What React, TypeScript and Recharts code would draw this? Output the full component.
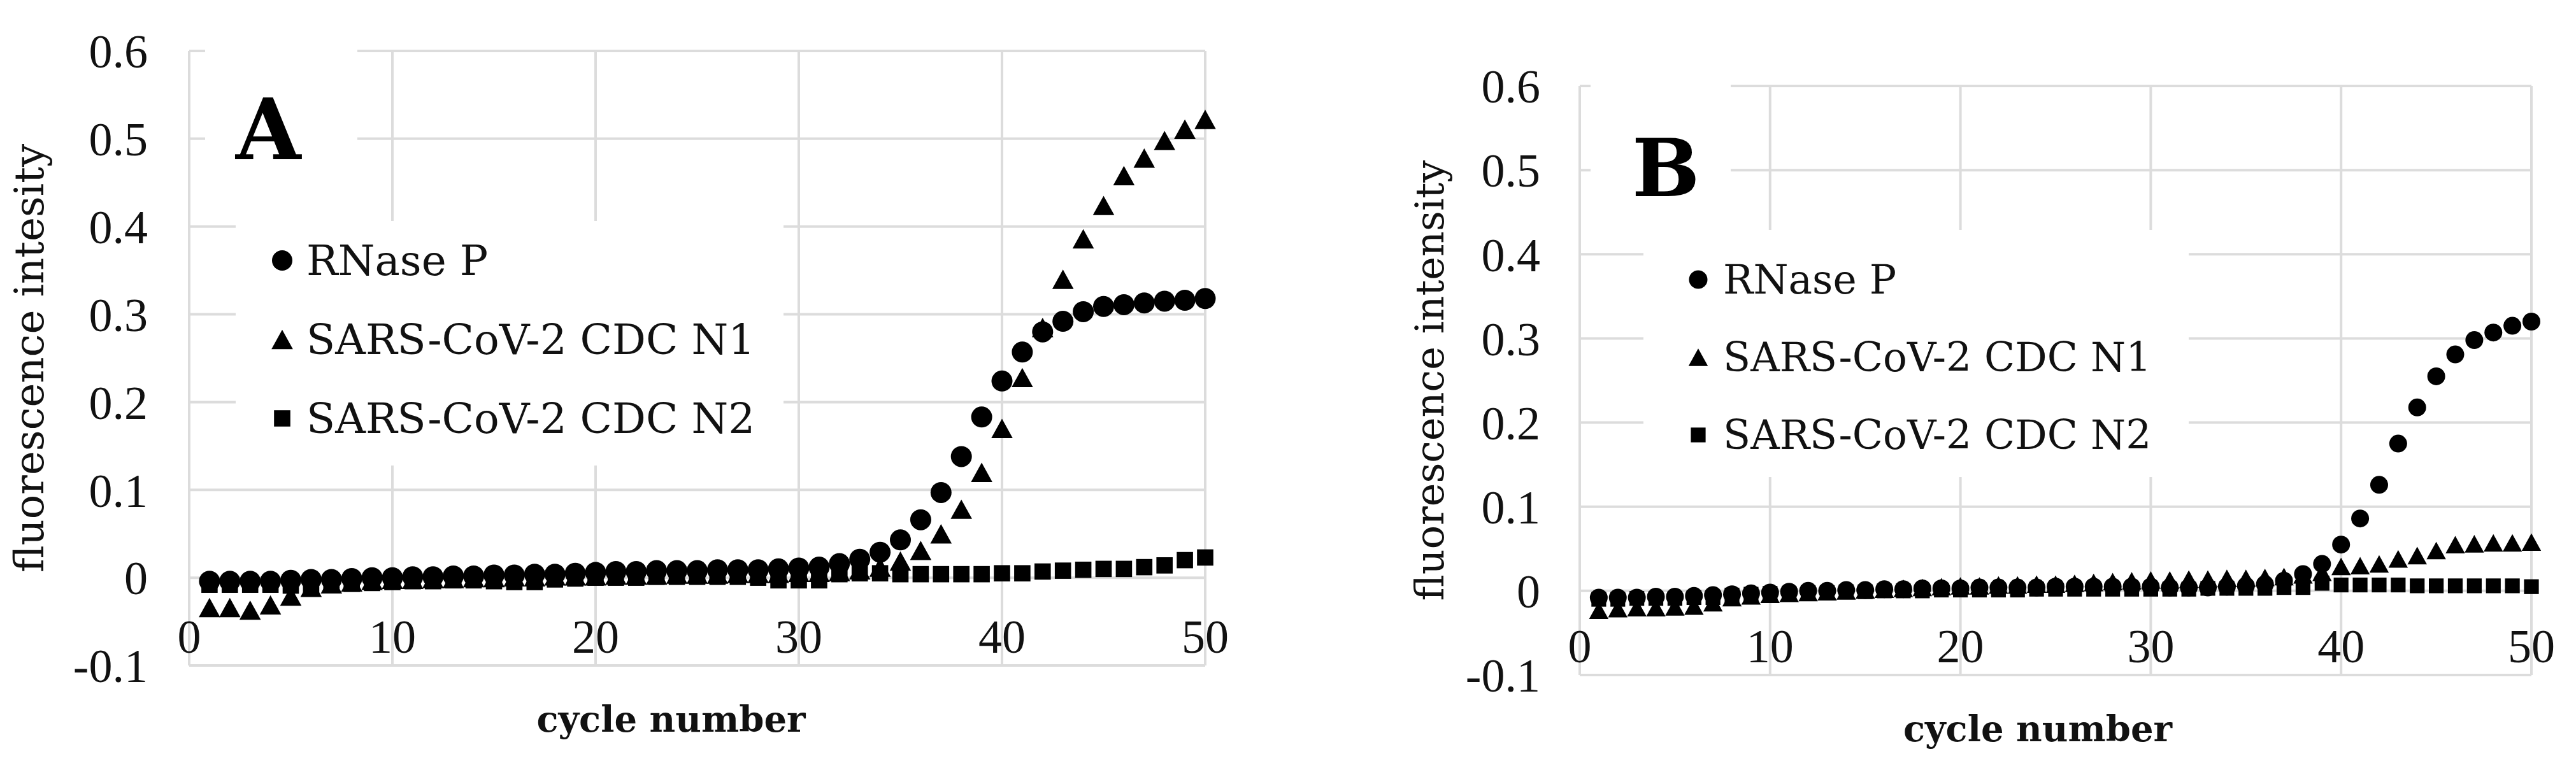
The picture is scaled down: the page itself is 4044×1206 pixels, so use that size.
import React from "react";
import { ScatterChart, Scatter, XAxis, YAxis, CartesianGrid, Legend } from "recharts";

// cycle numbers on the x axis
const cycles = [
  1, 2, 3, 4, 5, 6, 7, 8, 9, 10,
  11, 12, 13, 14, 15, 16, 17, 18, 19, 20,
  21, 22, 23, 24, 25, 26, 27, 28, 29, 30,
  31, 32, 33, 34, 35, 36, 37, 38, 39, 40,
  41, 42, 43, 44, 45, 46, 47, 48, 49, 50,
];

const xTicks = [0, 10, 20, 30, 40, 50];
const yTicks = [-0.1, 0, 0.1, 0.2, 0.3, 0.4, 0.5, 0.6];

const seriesNames = ["RNase P", "SARS-CoV-2 CDC N1", "SARS-CoV-2 CDC N2"];

// panel A
const aRNaseP = [
  -0.004, -0.004, -0.004, -0.004, -0.003, -0.002, -0.002, -0.001, 0.0, 0.0,
  0.001, 0.001, 0.002, 0.002, 0.003, 0.003, 0.004, 0.004, 0.005, 0.006,
  0.007, 0.007, 0.008, 0.008, 0.008, 0.009, 0.009, 0.009, 0.01, 0.011,
  0.012, 0.016, 0.021, 0.029, 0.043, 0.066, 0.097, 0.138, 0.183, 0.224,
  0.257, 0.28, 0.292, 0.303, 0.309, 0.311, 0.313, 0.315, 0.316, 0.318,
];
const aN1 = [
  -0.034, -0.034, -0.037, -0.031, -0.021, -0.011, -0.007, -0.005, -0.003, -0.002,
  -0.002, -0.001, -0.001, 0.0, 0.0, 0.001, 0.001, 0.002, 0.002, 0.002,
  0.003, 0.003, 0.003, 0.004, 0.004, 0.004, 0.005, 0.005, 0.005, 0.006,
  0.006, 0.007, 0.009, 0.012, 0.019, 0.031, 0.05, 0.078, 0.12, 0.17,
  0.228, 0.285, 0.34, 0.386, 0.424, 0.458, 0.478, 0.498, 0.511, 0.522,
];
const aN2 = [
  -0.008, -0.008, -0.008, -0.008, -0.009, -0.009, -0.008, -0.007, -0.006, -0.005,
  -0.004, -0.004, -0.003, -0.003, -0.004, -0.005, -0.005, -0.002, -0.001, 0.0,
  0.0, 0.0, 0.001, 0.001, 0.001, 0.001, 0.001, 0.0, -0.003, -0.003,
  -0.003, 0.004, 0.005, 0.005, 0.004, 0.004, 0.004, 0.004, 0.004, 0.005,
  0.005, 0.007, 0.008, 0.009, 0.01, 0.01, 0.012, 0.014, 0.02, 0.023,
];

// panel B
const bRNaseP = [
  -0.008, -0.008, -0.008, -0.007, -0.007, -0.006, -0.005, -0.004, -0.003, -0.002,
  -0.001, 0.0, 0.0, 0.001, 0.001, 0.002, 0.002, 0.003, 0.003, 0.003,
  0.004, 0.004, 0.004, 0.004, 0.005, 0.005, 0.005, 0.005, 0.005, 0.005,
  0.004, 0.004, 0.004, 0.005, 0.006, 0.008, 0.012, 0.02, 0.032, 0.055,
  0.086, 0.126, 0.175, 0.218, 0.255, 0.281, 0.298, 0.307, 0.315, 0.32,
];
const bN1 = [
  -0.023, -0.021, -0.02, -0.02, -0.019, -0.018, -0.014, -0.008, -0.006, -0.004,
  -0.003, -0.002, -0.001, 0.0, 0.001, 0.002, 0.003, 0.004, 0.005, 0.006,
  0.006, 0.007, 0.007, 0.008, 0.008, 0.009, 0.01, 0.011, 0.012, 0.013,
  0.013, 0.014, 0.014, 0.015, 0.015, 0.016, 0.017, 0.019, 0.022, 0.029,
  0.03, 0.032, 0.038, 0.042, 0.048, 0.055, 0.056, 0.057, 0.057, 0.058,
];
const bN2 = [
  -0.01, -0.01, -0.009, -0.009, -0.009, -0.008, -0.008, -0.005, -0.004, -0.003,
  -0.003, -0.002, -0.002, -0.001, -0.001, 0.0, 0.0, 0.0, 0.001, 0.001,
  0.001, 0.001, 0.001, 0.002, 0.002, 0.002, 0.002, 0.002, 0.002, 0.002,
  0.002, 0.002, 0.003, 0.003, 0.003, 0.003, 0.004, 0.004, 0.009, 0.007,
  0.007, 0.007, 0.007, 0.006, 0.006, 0.006, 0.006, 0.006, 0.006, 0.005,
];

const serif = "'DejaVu Serif', serif";
const numFont = "'Liberation Serif', serif";
const kinds = ["circle", "triangle", "square"];

const toPoints = (values: number[]) => cycles.map((c, i) => ({ x: c, y: values[i] }));

function Marker({ kind, cx, cy, size }: { kind: string; cx: number; cy: number; size: number }) {
  if (kind === "circle") return <circle cx={cx} cy={cy} r={size / 2} fill="#000" />;
  if (kind === "triangle") {
    const w = size * 1.05;
    const h = size * 0.95;
    return (
      <polygon
        points={`${cx},${cy - h / 2} ${cx - w / 2},${cy + h / 2} ${cx + w / 2},${cy + h / 2}`}
        fill="#000"
      />
    );
  }
  const s = size * 0.8;
  return <rect x={cx - s / 2} y={cy - s / 2} width={s} height={s} fill="#000" />;
}

const fmtY = (v: number) => (Math.abs(v) < 1e-9 ? "0" : v.toFixed(1));

function Panel(p: any) {
  const series = [p.rnase, p.n1, p.n2];

  const XTick = (t: any) => (
    <text x={t.x} y={t.y - 20} textAnchor="middle" fontFamily={numFont} fontSize={74} fill="#111">
      {t.payload.value}
    </text>
  );

  const legendContent = () => (
    <div style={{ paddingTop: p.legend.padTop }}>
      {seriesNames.map((name, i) => (
        <div key={name} style={{ height: p.legend.rowH, display: "flex", alignItems: "center" }}>
          <svg width={p.legend.markerX * 2} height={40} style={{ flex: "none" }}>
            <Marker kind={kinds[i]} cx={p.legend.markerX} cy={20} size={p.legend.markerSize} />
          </svg>
          <span
            style={{
              marginLeft: p.legend.textX - p.legend.markerX * 2,
              fontFamily: serif,
              fontSize: p.legend.fontSize,
              color: "#111",
              whiteSpace: "nowrap",
            }}
          >
            {name}
          </span>
        </div>
      ))}
    </div>
  );

  return (
    <div style={{ position: "absolute", left: p.left, top: 0, width: p.width, height: p.height }}>
      <ScatterChart
        width={p.width}
        height={p.height}
        margin={{ top: p.top, right: p.right, bottom: 0, left: 0 }}
      >
        <CartesianGrid stroke="#dcdcdc" strokeWidth={4} />
        <XAxis
          type="number"
          dataKey="x"
          domain={[0, 50]}
          ticks={xTicks}
          interval={0}
          height={p.xAxisHeight}
          axisLine={false}
          tickLine={false}
          tickSize={0}
          tickMargin={0}
          tick={XTick}
          label={{
            content: (lp: any) => {
              const vb = lp.viewBox;
              return (
                <text
                  x={vb.x + vb.width / 2 + p.xTitleShift}
                  y={vb.y + 104}
                  textAnchor="middle"
                  fontFamily={serif}
                  fontWeight="bold"
                  fontSize={56}
                  fill="#111"
                >
                  cycle number
                </text>
              );
            },
          }}
        />
        <YAxis
          type="number"
          dataKey="y"
          domain={[-0.1, 0.6]}
          ticks={yTicks}
          interval={0}
          width={p.yAxisWidth}
          axisLine={false}
          tickLine={false}
          tickSize={0}
          tickMargin={p.yTickMargin}
          tickFormatter={fmtY}
          tick={{ fontSize: 74, fill: "#111", fontFamily: numFont }}
          label={{
            content: (lp: any) => {
              const vb = lp.viewBox;
              const cx = vb.x + p.yTitleX;
              const cy = vb.y + vb.height / 2;
              return (
                <text
                  x={cx}
                  y={cy}
                  transform={`rotate(-90 ${cx} ${cy})`}
                  textAnchor="middle"
                  fontFamily={serif}
                  fontSize={p.yTitleSize}
                  fill="#111"
                >
                  {p.yTitle}
                </text>
              );
            },
          }}
        />
        {series.map((vals: number[], i: number) => (
          <Scatter
            key={seriesNames[i]}
            name={seriesNames[i]}
            data={toPoints(vals)}
            isAnimationActive={false}
            shape={(sp: any) => <Marker kind={kinds[i]} cx={sp.cx} cy={sp.cy} size={p.markerSizes[i]} />}
          />
        ))}
        <Legend
          layout="vertical"
          align="center"
          verticalAlign="middle"
          content={legendContent}
          wrapperStyle={{
            left: p.legend.left,
            top: p.legend.top,
            width: p.legend.width,
            height: p.legend.height,
            background: "#fff",
          }}
        />
      </ScatterChart>
      {/* white patch behind the panel letter, hides the gridlines like the original text box */}
      <div
        style={{
          position: "absolute",
          left: p.letter.boxLeft,
          top: p.letter.boxTop,
          width: p.letter.boxWidth,
          height: p.letter.boxHeight,
          background: "#fff",
        }}
      />
      <div
        style={{
          position: "absolute",
          left: p.letter.left,
          top: p.letter.top,
          fontFamily: serif,
          fontWeight: "bold",
          fontSize: p.letter.fontSize,
          lineHeight: 1,
          color: "#000",
          whiteSpace: "nowrap",
        }}
      >
        {p.letter.text}
      </div>
    </div>
  );
}

export default function App() {
  return (
    <div style={{ position: "absolute", left: 0, top: 0, width: 4044, height: 1206, background: "#fff" }}>
      <Panel
        left={0}
        width={2000}
        height={1206}
        top={80}
        right={108}
        xAxisHeight={161}
        yAxisWidth={297}
        yTickMargin={65}
        yTitle="fluorescence intesity"
        yTitleX={68}
        yTitleSize={64}
        xTitleShift={-41}
        rnase={aRNaseP}
        n1={aN1}
        n2={aN2}
        markerSizes={[33, 32, 32]}
        legend={{ left: 370, top: 347, width: 860, height: 384, padTop: 0, rowH: 124, markerX: 73, markerSize: 32, textX: 111, fontSize: 66 }}
        letter={{ text: "A", boxLeft: 322, boxTop: 40, boxWidth: 239, boxHeight: 225, left: 370, top: 138, fontSize: 132 }}
      />
      <Panel
        left={2040}
        width={2004}
        height={1206}
        top={135}
        right={70}
        xAxisHeight={146}
        yAxisWidth={440}
        yTickMargin={62}
        yTitle="fluorescence intensity"
        yTitleX={226}
        yTitleSize={62}
        xTitleShift={-28}
        rnase={bRNaseP}
        n1={bN1}
        n2={bN2}
        markerSizes={[28, 29, 29]}
        legend={{ left: 540, top: 361, width: 856, height: 388, padTop: 17, rowH: 122, markerX: 86, markerSize: 29, textX: 125, fontSize: 63 }}
        letter={{ text: "B", boxLeft: 457, boxTop: 100, boxWidth: 220, boxHeight: 225, left: 522, top: 201, fontSize: 126 }}
      />
    </div>
  );
}
